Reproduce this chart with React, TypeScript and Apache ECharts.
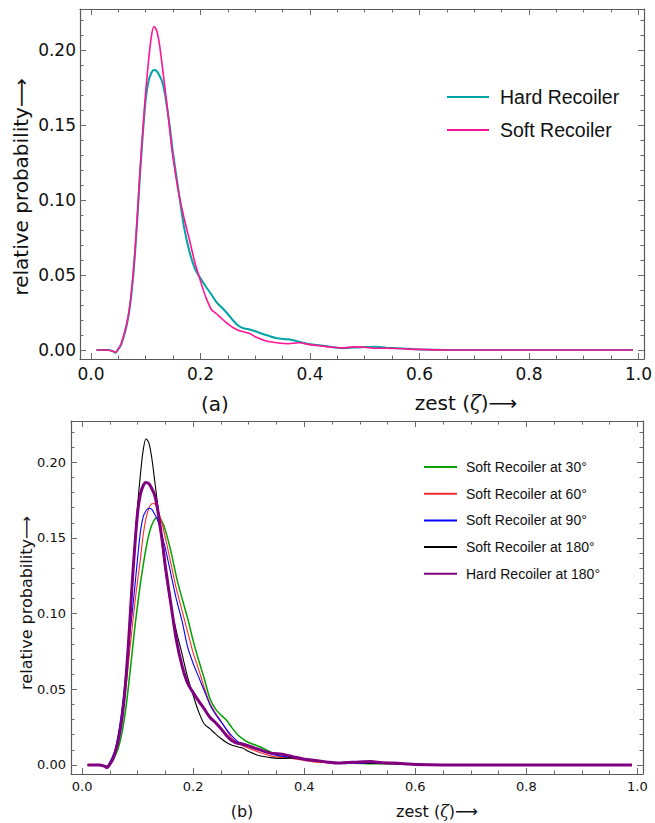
import React, { useEffect, useRef } from "react";
import * as echarts from "echarts";

// zest (ζ) sample grid
const zest = [0.01, 0.02, 0.03, 0.04, 0.045, 0.05, 0.055, 0.06, 0.065, 0.07, 0.075, 0.08, 0.085, 0.09, 0.095, 0.1, 0.105, 0.11, 0.115, 0.12, 0.125, 0.13, 0.135, 0.14, 0.145, 0.15, 0.16, 0.17, 0.18, 0.19, 0.2, 0.21, 0.22, 0.23, 0.24, 0.25, 0.26, 0.27, 0.28, 0.29, 0.3, 0.32, 0.34, 0.36, 0.38, 0.4, 0.42, 0.44, 0.46, 0.48, 0.5, 0.52, 0.54, 0.56, 0.58, 0.6, 0.65, 0.7, 0.8, 0.9, 0.99];

// Hard recoiler (also "Hard Recoiler at 180°")
const hardRecoiler = [0, 0, 0, -0.0008, -0.0018, 0.0005, 0.0035, 0.009, 0.016, 0.026, 0.041, 0.062, 0.089, 0.119, 0.145, 0.167, 0.179, 0.1845, 0.1867, 0.186, 0.183, 0.179, 0.171, 0.159, 0.146, 0.131, 0.106, 0.082, 0.0655, 0.054, 0.0478, 0.0422, 0.037, 0.0315, 0.028, 0.024, 0.0195, 0.016, 0.0143, 0.0137, 0.0125, 0.01, 0.0078, 0.0071, 0.0055, 0.0038, 0.003, 0.002, 0.0012, 0.0016, 0.002, 0.0022, 0.0014, 0.0012, 0.0008, 0.0003, 0, 0, 0, 0, 0];

// Soft recoiler (also "Soft Recoiler at 180°")
const softRecoiler = [0, 0, 0, -0.0008, -0.0016, 0.0008, 0.004, 0.01, 0.017, 0.027, 0.043, 0.064, 0.092, 0.122, 0.148, 0.172, 0.192, 0.208, 0.2156, 0.213, 0.204, 0.19, 0.175, 0.16, 0.143, 0.128, 0.105, 0.088, 0.0733, 0.058, 0.046, 0.035, 0.027, 0.024, 0.0205, 0.0175, 0.0148, 0.013, 0.012, 0.011, 0.0088, 0.006, 0.0048, 0.0042, 0.0048, 0.0036, 0.0027, 0.0019, 0.0014, 0.0021, 0.0018, 0.0012, 0.0012, 0.001, 0.0006, 0.0004, 0, 0, 0, 0, 0];

const soft30 = [0, 0, 0, -0.0006, -0.001, 0.0008, 0.003, 0.0065, 0.011, 0.018, 0.028, 0.041, 0.057, 0.074, 0.091, 0.106, 0.12, 0.132, 0.143, 0.152, 0.158, 0.162, 0.1634, 0.163, 0.16, 0.155, 0.141, 0.124, 0.11, 0.097, 0.082, 0.069, 0.057, 0.044, 0.037, 0.033, 0.0295, 0.0245, 0.02, 0.017, 0.0148, 0.012, 0.0085, 0.005, 0.0044, 0.004, 0.003, 0.002, 0.0015, 0.0012, 0.001, 0.0008, 0.0008, 0.0006, 0.0004, 0.0002, 0, 0, 0, 0, 0];

const soft60 = [0, 0, 0, -0.0007, -0.0012, 0.0012, 0.0045, 0.009, 0.016, 0.026, 0.039, 0.055, 0.073, 0.09, 0.107, 0.122, 0.136, 0.152, 0.163, 0.1695, 0.1725, 0.1728, 0.1695, 0.1645, 0.158, 0.15, 0.133, 0.116, 0.102, 0.088, 0.074, 0.063, 0.051, 0.041, 0.0345, 0.029, 0.023, 0.0175, 0.0145, 0.0125, 0.011, 0.0082, 0.006, 0.0048, 0.0041, 0.003, 0.0018, 0.0015, 0.0013, 0.0012, 0.001, 0.001, 0.0009, 0.0007, 0.0005, 0.0003, 0, 0, 0, 0, 0];

const soft90 = [0, 0, 0, -0.0008, -0.0008, 0.002, 0.0057, 0.011, 0.02, 0.032, 0.047, 0.065, 0.083, 0.1, 0.118, 0.137, 0.154, 0.164, 0.168, 0.1696, 0.169, 0.1662, 0.1626, 0.157, 0.15, 0.143, 0.126, 0.109, 0.095, 0.078, 0.067, 0.058, 0.049, 0.04, 0.0335, 0.0285, 0.0235, 0.019, 0.0155, 0.014, 0.0123, 0.0097, 0.0073, 0.0058, 0.0046, 0.0036, 0.0027, 0.002, 0.0015, 0.0012, 0.0011, 0.0012, 0.0012, 0.0008, 0.0006, 0.0003, 0, 0, 0, 0, 0];

const xMajor = [0, 0.2, 0.4, 0.6, 0.8, 1.0];
const xMinor = [0.05, 0.1, 0.15, 0.25, 0.3, 0.35, 0.45, 0.5, 0.55, 0.65, 0.7, 0.75, 0.85, 0.9, 0.95];
const yMajor = [0, 0.05, 0.1, 0.15, 0.2];
const yMinor = [0.01, 0.02, 0.03, 0.04, 0.06, 0.07, 0.08, 0.09, 0.11, 0.12, 0.13, 0.14, 0.16, 0.17, 0.18, 0.19, 0.21, 0.22];

const X_MIN = -0.02;
const X_MAX = 1.01;
const Y_MIN = -0.006;
const Y_MAX = 0.2273;

const pairs = (ys: number[]) => zest.map((x, i) => [x, ys[i]]);

const FRAME = "#5a5a5a";
const TICK = "#6a6a6a";

function xAxes(grid: number, fontSize: number, margin: number) {
  const base = {
    gridIndex: grid,
    type: "value",
    min: X_MIN,
    max: X_MAX,
    splitLine: { show: false },
  };
  return [
    {
      ...base,
      position: "bottom",
      axisLine: { show: true, onZero: false, lineStyle: { color: FRAME, width: 1.2 } },
      axisTick: { show: true, inside: true, length: 6, customValues: xMajor, lineStyle: { color: TICK } },
      axisLabel: {
        show: true,
        customValues: xMajor,
        formatter: (v: number) => v.toFixed(1),
        fontFamily: "DejaVu Sans",
        fontSize,
        color: "#111",
        margin,
      },
    },
    {
      ...base,
      position: "bottom",
      axisLine: { show: false, onZero: false },
      axisTick: { show: true, inside: true, length: 3.5, customValues: xMinor, lineStyle: { color: TICK } },
      axisLabel: { show: false },
    },
    {
      ...base,
      position: "top",
      axisLine: { show: true, onZero: false, lineStyle: { color: FRAME, width: 1.2 } },
      axisTick: { show: true, inside: true, length: 6, customValues: xMajor, lineStyle: { color: TICK } },
      axisLabel: { show: false },
    },
    {
      ...base,
      position: "top",
      axisLine: { show: false, onZero: false },
      axisTick: { show: true, inside: true, length: 3.5, customValues: xMinor, lineStyle: { color: TICK } },
      axisLabel: { show: false },
    },
  ];
}

function yAxes(grid: number, fontSize: number, margin: number) {
  const base = {
    gridIndex: grid,
    type: "value",
    min: Y_MIN,
    max: Y_MAX,
    splitLine: { show: false },
  };
  return [
    {
      ...base,
      position: "left",
      axisLine: { show: true, onZero: false, lineStyle: { color: FRAME, width: 1.2 } },
      axisTick: { show: true, inside: true, length: 6, customValues: yMajor, lineStyle: { color: TICK } },
      axisLabel: {
        show: true,
        customValues: yMajor,
        formatter: (v: number) => v.toFixed(2),
        fontFamily: "DejaVu Sans",
        fontSize,
        color: "#111",
        margin,
      },
    },
    {
      ...base,
      position: "left",
      axisLine: { show: false, onZero: false },
      axisTick: { show: true, inside: true, length: 3.5, customValues: yMinor, lineStyle: { color: TICK } },
      axisLabel: { show: false },
    },
    {
      ...base,
      position: "right",
      axisLine: { show: true, onZero: false, lineStyle: { color: FRAME, width: 1.2 } },
      axisTick: { show: true, inside: true, length: 6, customValues: yMajor, lineStyle: { color: TICK } },
      axisLabel: { show: false },
    },
    {
      ...base,
      position: "right",
      axisLine: { show: false, onZero: false },
      axisTick: { show: true, inside: true, length: 3.5, customValues: yMinor, lineStyle: { color: TICK } },
      axisLabel: { show: false },
    },
  ];
}

function line(name: string, ys: number[], color: string, width: number, axisIdx: number) {
  return {
    name,
    type: "line",
    xAxisIndex: axisIdx,
    yAxisIndex: axisIdx,
    data: pairs(ys),
    symbol: "none",
    smooth: 0.3,
    lineStyle: { color, width },
    itemStyle: { color },
    silent: true,
  };
}

export default function App() {
  const ref = useRef<HTMLDivElement>(null);
  useEffect(() => {
    if (!ref.current) return;
    const chart = echarts.init(ref.current, null, { renderer: "svg" });
    const zetaRich = (size: number) => ({
      n: { fontFamily: "DejaVu Sans", fontSize: size, fill: "#111" },
      i: { fontFamily: "DejaVu Serif", fontStyle: "italic", fontSize: size, fill: "#111" },
    });
    chart.setOption({
      animation: false,
      backgroundColor: "#ffffff",
      grid: [
        { left: 80, top: 9, width: 566, height: 350 },
        { left: 71, top: 421, width: 572, height: 353 },
      ],
      xAxis: [...xAxes(0, 17, 6), ...xAxes(1, 13, 6)],
      yAxis: [...yAxes(0, 17, 4), ...yAxes(1, 13, 5)],
      legend: [
        {
          data: ["Hard Recoiler", "Soft Recoiler"],
          orient: "vertical",
          left: 447,
          top: 87,
          padding: 0,
          icon: "rect",
          itemWidth: 42,
          itemHeight: 2,
          itemGap: 13,
          textStyle: { fontFamily: "Liberation Sans", fontSize: 19.5, lineHeight: 20, color: "#111", padding: [0, 0, 0, 6] },
          selectedMode: false,
        },
        {
          data: [
            "Soft Recoiler at 30°",
            "Soft Recoiler at 60°",
            "Soft Recoiler at 90°",
            "Soft Recoiler at 180°",
            "Hard Recoiler at 180°",
          ],
          orient: "vertical",
          left: 424,
          top: 459,
          padding: 0,
          icon: "rect",
          itemWidth: 33,
          itemHeight: 2,
          itemGap: 10.7,
          textStyle: { fontFamily: "Liberation Sans", fontSize: 14, lineHeight: 16, color: "#111", padding: [0, 0, 0, 4] },
          selectedMode: false,
        },
      ],
      graphic: [
        {
          type: "text",
          x: 21,
          y: 187,
          rotation: Math.PI / 2,
          style: {
            text: "relative probability⟶",
            fontFamily: "DejaVu Sans",
            fontSize: 20,
            fill: "#111",
            align: "center",
            verticalAlign: "middle",
          },
        },
        {
          type: "text",
          x: 215,
          y: 404,
          style: { text: "(a)", fontFamily: "DejaVu Sans", fontSize: 20, fill: "#111", align: "center", verticalAlign: "middle" },
        },
        {
          type: "text",
          x: 466,
          y: 403,
          style: {
            text: "{n|zest (}{i|ζ}{n|)⟶}",
            rich: zetaRich(20),
            align: "center",
            verticalAlign: "middle",
          },
        },
        {
          type: "text",
          x: 26,
          y: 603,
          rotation: Math.PI / 2,
          style: {
            text: "relative probability⟶",
            fontFamily: "DejaVu Sans",
            fontSize: 16,
            fill: "#111",
            align: "center",
            verticalAlign: "middle",
          },
        },
        {
          type: "text",
          x: 242,
          y: 811,
          style: { text: "(b)", fontFamily: "DejaVu Sans", fontSize: 16, fill: "#111", align: "center", verticalAlign: "middle" },
        },
        {
          type: "text",
          x: 437,
          y: 811,
          style: {
            text: "{n|zest (}{i|ζ}{n|)⟶}",
            rich: zetaRich(16),
            align: "center",
            verticalAlign: "middle",
          },
        },
      ],
      series: [
        line("Hard Recoiler", hardRecoiler, "#00a3a6", 2, 0),
        line("Soft Recoiler", softRecoiler, "#ff1493", 1.6, 0),
        line("Soft Recoiler at 30°", soft30, "#00a000", 1.5, 4),
        line("Soft Recoiler at 60°", soft60, "#ff2a2a", 1.1, 4),
        line("Soft Recoiler at 90°", soft90, "#0000ff", 1.1, 4),
        line("Soft Recoiler at 180°", softRecoiler, "#000000", 1.1, 4),
        line("Hard Recoiler at 180°", hardRecoiler, "#800080", 3, 4),
      ],
    });
    return () => chart.dispose();
  }, []);
  return <div ref={ref} style={{ position: "absolute", left: 0, top: 0, width: 655, height: 823 }} />;
}
